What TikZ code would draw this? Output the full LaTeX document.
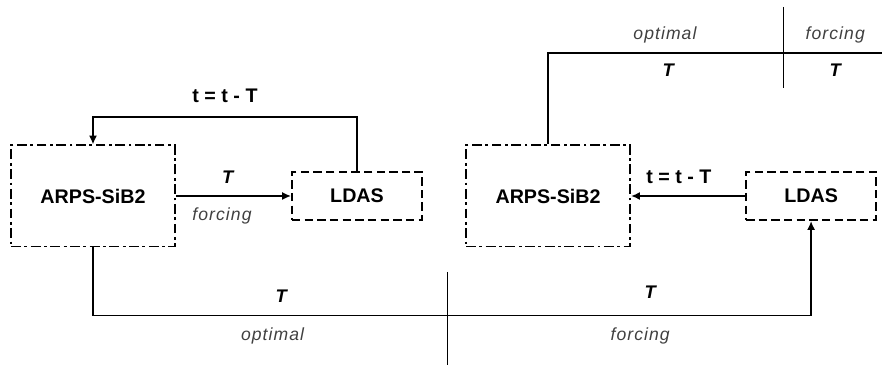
\documentclass[tikz,border=0pt]{standalone}
\usepackage{fontspec}
\setmainfont{Liberation Sans}
\newfontfamily\widefont[LetterSpace=6]{Liberation Sans}
\usetikzlibrary{
    arrows.meta,
    positioning
}

\begin{document}
\begin{tikzpicture}[
    x=0.025cm, y=-0.025cm,
    node distance=2.875cm,
    model/.style={
        draw,
        line width=1.4pt,
        dash pattern=on 7pt off 2.5pt on 2pt off 2.5pt,
        minimum width=4.1cm,
        minimum height=2.525cm,
        inner sep=0pt,
        font=\fontsize{14}{16}\selectfont\bfseries
    },
    assim/.style={
        draw,
        line width=1.4pt,
        dash pattern=on 6pt off 3pt,
        minimum width=3.25cm,
        minimum height=1.2cm,
        inner sep=0pt,
        font=\fontsize{14}{16}\selectfont\bfseries
    },
    flow/.style={line width=1.4pt, -{Latex[length=2.2mm, width=2mm]}},
    link/.style={line width=1.4pt},
    split/.style={line width=0.7pt},
    period/.style={font=\fontsize{13}{15}\selectfont\bfseries\itshape},
    update/.style={font=\fontsize{14}{16}\selectfont\bfseries},
    kind/.style={font=\widefont\fontsize{12.5}{14}\selectfont\itshape, text=black!75}
]

\useasboundingbox (0,0) rectangle (882,365);

\node[model] (arpsL) at (93,196) {ARPS-SiB2};

\node[assim, right=2.875cm of arpsL] (ldasL) {LDAS};

\node[model, right=1.05cm of ldasL] (arpsR) {ARPS-SiB2};

\node[assim, right=2.85cm of arpsR] (ldasR) {LDAS};

\coordinate (topend) at (882,53);

% left cycle
\draw[flow] (arpsL) -- node[pos=0.45, above=5pt, period]{T}
    node[pos=0.4, below=4pt, kind]{forcing} (ldasL);
\draw[flow] (ldasL.north) -- ++(0,-54) -| node[pos=0.25, above=6pt, update]{t = t - T} (arpsL.north);

% right cycle
\draw[flow] (ldasR) -- node[pos=0.58, above=5pt, update]{t = t - T} (arpsR);
\draw[link] (arpsR.north) |- node[pos=0.675, above=3pt, kind]{optimal}
    node[pos=0.68, below=4pt, period]{T}
    node[pos=0.93, above=3pt, kind]{forcing}
    node[pos=0.93, below=4pt, period]{T} (topend);
\draw[split] (783,7) -- (783,88);

% bottom link
\draw[flow] (arpsL.south) -- ++(0,68) -| node[pos=0.131, above=5pt, period]{T}
    node[pos=0.125, below=5pt, kind]{optimal}
    node[pos=0.388, above=8pt, period]{T}
    node[pos=0.381, below=5pt, kind]{forcing} (ldasR.south);
\draw[split] (447,272) -- (447,365);

\end{tikzpicture}
\end{document}
